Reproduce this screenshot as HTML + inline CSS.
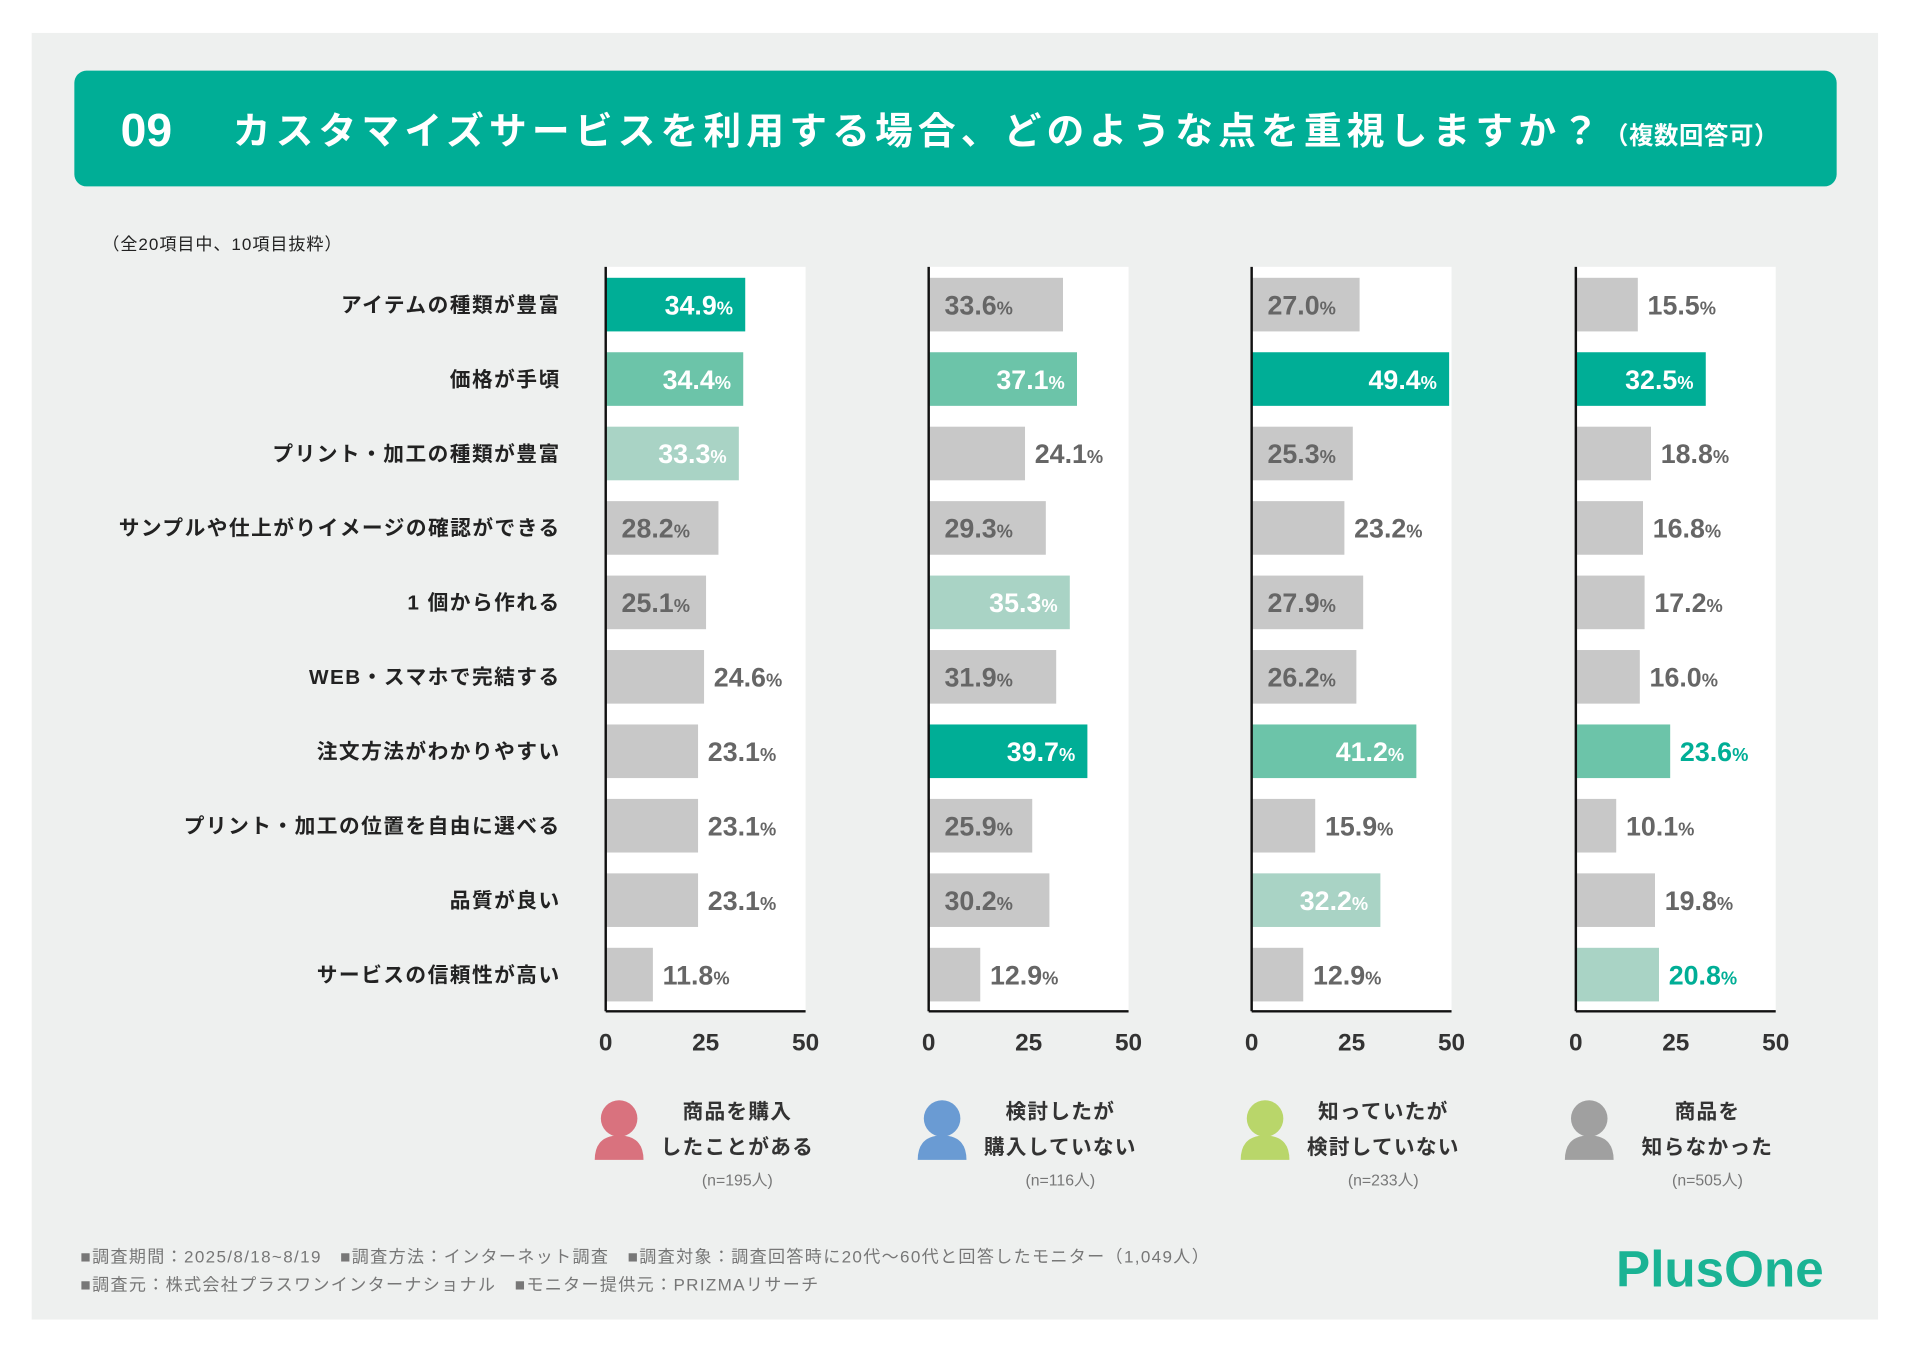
<!DOCTYPE html>
<html><head><meta charset="utf-8">
<style>
html,body{margin:0;padding:0;background:#fff;}
svg{display:block;font-family:"Liberation Sans","Noto Sans CJK JP",sans-serif;}
</style></head>
<body>
<svg id="chart" width="1911" height="1350" viewBox="0 0 1568 1108" preserveAspectRatio="none" xmlns="http://www.w3.org/2000/svg">
<rect x="26" y="27" width="1515" height="1056" fill="#eef0ef"/>
<rect x="61" y="58" width="1446" height="95" rx="10" fill="#00ae96"/>
<text x="99" y="120" font-size="38" font-weight="bold" fill="#fff">09</text>
<text x="191" y="118" font-size="31" font-weight="bold" fill="#fff" letter-spacing="4.2">カスタマイズサービスを利用する場合、どのような点を重視しますか？<tspan font-size="20" letter-spacing="0.5">（複数回答可）</tspan></text>
<text x="84" y="205" font-size="14" fill="#222" letter-spacing="0.8">（全20項目中、10項目抜粋）</text>
<g id="plots"></g>
<g id="legend"></g>
<text x="66" y="1036" font-size="14" fill="#777" letter-spacing="1.1">■調査期間：2025/8/18~8/19　■調査方法：インターネット調査　■調査対象：調査回答時に20代～60代と回答したモニター（1,049人）</text>
<text x="66" y="1059" font-size="14" fill="#777" letter-spacing="1.1">■調査元：株式会社プラスワンインターナショナル　■モニター提供元：PRIZMAリサーチ</text>
<text x="1326" y="1056" font-size="42" font-weight="bold" fill="#1ab394" letter-spacing="0">PlusOne</text>
</svg>
<script>
const categories = ["アイテムの種類が豊富","価格が手頃","プリント・加工の種類が豊富","サンプルや仕上がりイメージの確認ができる","1 個から作れる","WEB・スマホで完結する","注文方法がわかりやすい","プリント・加工の位置を自由に選べる","品質が良い","サービスの信頼性が高い"];
const purchased = [34.9,34.4,33.3,28.2,25.1,24.6,23.1,23.1,23.1,11.8];
const considered = [33.6,37.1,24.1,29.3,35.3,31.9,39.7,25.9,30.2,12.9];
const aware = [27.0,49.4,25.3,23.2,27.9,26.2,41.2,15.9,32.2,12.9];
const unaware = [15.5,32.5,18.8,16.8,17.2,16.0,23.6,10.1,19.8,20.8];
const tickValues = [0,25,50];
const groupLine1 = ["商品を購入","検討したが","知っていたが","商品を"];
const groupLine2 = ["したことがある","購入していない","検討していない","知らなかった"];
const groupN = ["(n=195人)","(n=116人)","(n=233人)","(n=505人)"];
const groupColors = ["#d9727e","#6a9bd3","#b9d66a","#a0a0a0"];

const NS="http://www.w3.org/2000/svg";
function mk(tag,attrs,parent,text){const e=document.createElementNS(NS,tag);for(const k in attrs)e.setAttribute(k,attrs[k]);if(text!==undefined)e.textContent=text;parent.appendChild(e);return e;}
const plotsG=document.getElementById('plots');
const legendG=document.getElementById('legend');
const series=[purchased,considered,aware,unaware];
const chartX=[497,762,1027,1293];
const W=164, yTop=219, yBottom=830, rowH=61.1, row0=250, barH=44, maxV=50;
const xs=(c,v)=>chartX[c]+v/maxV*W;
const ys=i=>row0+i*rowH;
const hl=["#00ae96","#6cc4a9","#a9d3c5"];

categories.forEach((c,i)=>{
  const t=mk('text',{x:460,y:ys(i)+6,'font-size':17,'font-weight':'bold','text-anchor':'end',fill:'#222','letter-spacing':1.2},plotsG,c);
  
  
});

series.forEach((vals,c)=>{
  const g=mk('g',{},plotsG);
  
  
  const bg=mk('rect',{x:chartX[c],y:yTop,width:W,height:yBottom-yTop,fill:'#fff'},g);
  
  
  const sorted=[...vals].sort((a,b)=>b-a);
  vals.forEach((v,i)=>{
    const rank=sorted.indexOf(v);
    const col=rank<3?hl[rank]:'#c8c8c8';
    const r=mk('rect',{x:xs(c,0),y:ys(i)-barH/2,width:xs(c,v)-xs(c,0),height:barH,fill:col},g);
    
    
    let x,anchor,fill;
    if(v>=25){
      if(rank<3){x=xs(c,v)-10;anchor='end';fill='#fff';}
      else{x=xs(c,0)+13;anchor='start';fill='#666';}
    }else{x=xs(c,v)+8;anchor='start';fill=rank<3?'#00ae96':'#666';}
    const t=mk('text',{x:x,y:ys(i)+8,'font-size':22,'font-weight':'bold','text-anchor':anchor,fill:fill},g);
    mk('tspan',{},t,v.toFixed(1));
    mk('tspan',{'font-size':15},t,'%');
    
    
  });
  const ax=mk('line',{x1:chartX[c],y1:yTop,x2:chartX[c],y2:yBottom,stroke:'#111','stroke-width':2},g);
  
  
  const bx=mk('line',{x1:chartX[c],y1:yBottom,x2:chartX[c]+W,y2:yBottom,stroke:'#111','stroke-width':2},g);
  
  
  tickValues.forEach(tv=>{
    const t=mk('text',{x:xs(c,tv),y:862,'font-size':20,'font-weight':'bold','text-anchor':'middle',fill:'#333'},g,String(tv));
    
    
  });
  const lg=mk('g',{},legendG);
  
  
  const ix=chartX[c]+11, cx=chartX[c]+108;
  mk('circle',{cx:ix,cy:918,r:15,fill:groupColors[c]},lg);
  mk('path',{d:`M${ix-20} 952 Q${ix-20} 932 ${ix} 932 Q${ix+20} 932 ${ix+20} 952 Z`,fill:groupColors[c]},lg);
  mk('text',{x:cx,y:918,'font-size':17,'font-weight':'bold','text-anchor':'middle',fill:'#333','letter-spacing':1},lg,groupLine1[c]);
  mk('text',{x:cx,y:947,'font-size':17,'font-weight':'bold','text-anchor':'middle',fill:'#333','letter-spacing':1},lg,groupLine2[c]);
  mk('text',{x:cx,y:973,'font-size':13,'text-anchor':'middle',fill:'#777'},lg,groupN[c]);
});
</script>
</body></html>
